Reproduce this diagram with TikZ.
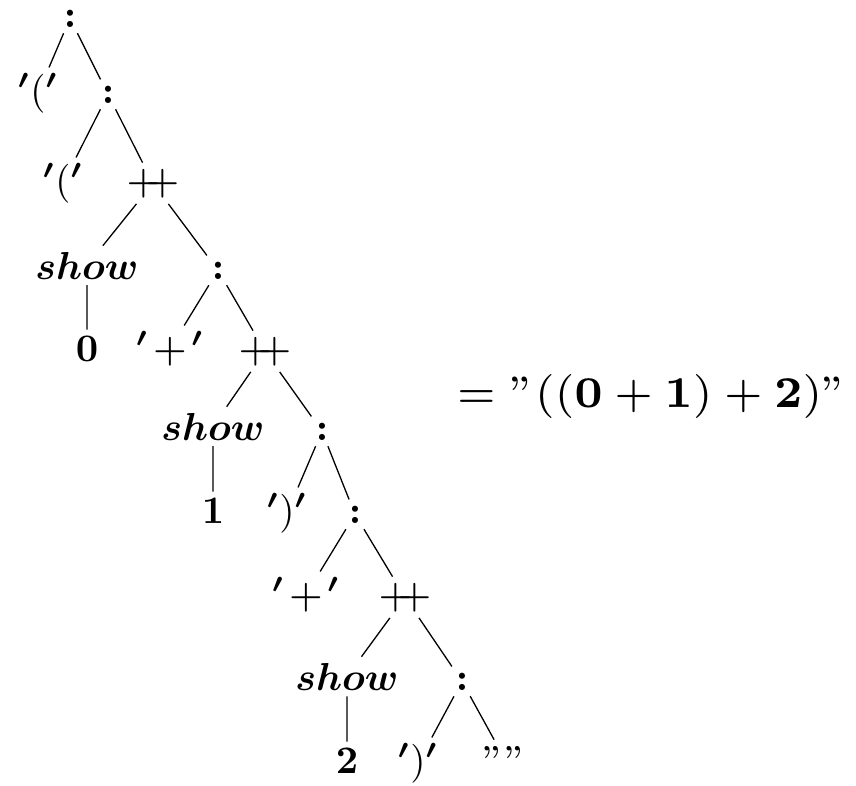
\documentclass[tikz,border=0pt]{standalone}
\usepackage{amsmath,bm}
\usepackage{graphicx}
\newcommand{\pr}{{}^{\boldsymbol{\prime}}}
\newcommand{\cons}{$\boldsymbol{:}$}
\newcommand{\lit}[1]{$\pr#1\pr$}
\newcommand{\sev}[1]{\scalebox{1.4286}{\fontsize{7}{8.4}\selectfont #1}}
\newcommand{\app}{\sev{$+\!\!+$}}
\newcommand{\litplus}{$\pr\mkern2mu\mbox{\sev{$+$}}\mkern2mu\pr$}
\newcommand{\shw}{$\boldsymbol{show}$}
\tikzset{
  tn/.style={font=\fontsize{10}{12}\selectfont, scale=3.9, inner sep=1.6pt, outer sep=0pt, anchor=base},
  edge/.style={line width=1.3pt}
}
\begin{document}
\begin{tikzpicture}[x=1pt,y=-1pt]
\useasboundingbox (0,0) rectangle (856,785);
\node[tn] (r0) at (70,27) {\cons};
\node[tn] (a1) at (38,103) {\lit{(}};
\node[tn] (n1) at (108,103) {\cons};
\node[tn] (a2) at (63,193) {\lit{(}};
\node[tn] (p2) at (153,193) {\app};
\node[tn] (s3) at (87,279) {\shw};
\node[tn] (c3) at (218,279) {\cons};
\node[tn] (d4) at (87,361) {$\mathbf{0}$};
\node[tn] (b4) at (170,361) {\litplus};
\node[tn] (p4) at (265,361) {\app};
\node[tn] (s5) at (213,440) {\shw};
\node[tn] (c5) at (322,440) {\cons};
\node[tn] (d6) at (213,523) {$\mathbf{1}$};
\node[tn] (e6) at (287,523) {\lit{)}};
\node[tn] (c6) at (355,523) {\cons};
\node[tn] (b7) at (306,607) {\litplus};
\node[tn] (p7) at (405,607) {\app};
\node[tn] (s8) at (347,690) {\shw};
\node[tn] (c8) at (462,690) {\cons};
\node[tn] (d9) at (347,773) {$\mathbf{2}$};
\node[tn] (e9) at (418,773) {\lit{)}};
\node[tn] (q9) at (505,773) {\sev{$""$}};
\node[anchor=base west, inner sep=0pt] (eq) at (457,407)
  {\resizebox{390pt}{!}{\fontsize{7}{8.4}\selectfont $= "((\mathbf{0}+\mathbf{1})+\mathbf{2})"$}};
\draw[edge] (r0) -- (a1);
\draw[edge] (r0) -- (n1);
\draw[edge] (n1) -- (a2);
\draw[edge] (n1) -- (p2);
\draw[edge] (p2) -- (s3);
\draw[edge] (p2) -- (c3);
\draw[edge] (s3) -- (d4);
\draw[edge] (c3) -- (b4);
\draw[edge] (c3) -- (p4);
\draw[edge] (p4) -- (s5);
\draw[edge] (p4) -- (c5);
\draw[edge] (s5) -- (d6);
\draw[edge] (c5) -- (e6);
\draw[edge] (c5) -- (c6);
\draw[edge] (c6) -- (b7);
\draw[edge] (c6) -- (p7);
\draw[edge] (p7) -- (s8);
\draw[edge] (p7) -- (c8);
\draw[edge] (s8) -- (d9);
\draw[edge] (c8) -- (e9);
\draw[edge] (c8) -- (q9);
\end{tikzpicture}
\end{document}
